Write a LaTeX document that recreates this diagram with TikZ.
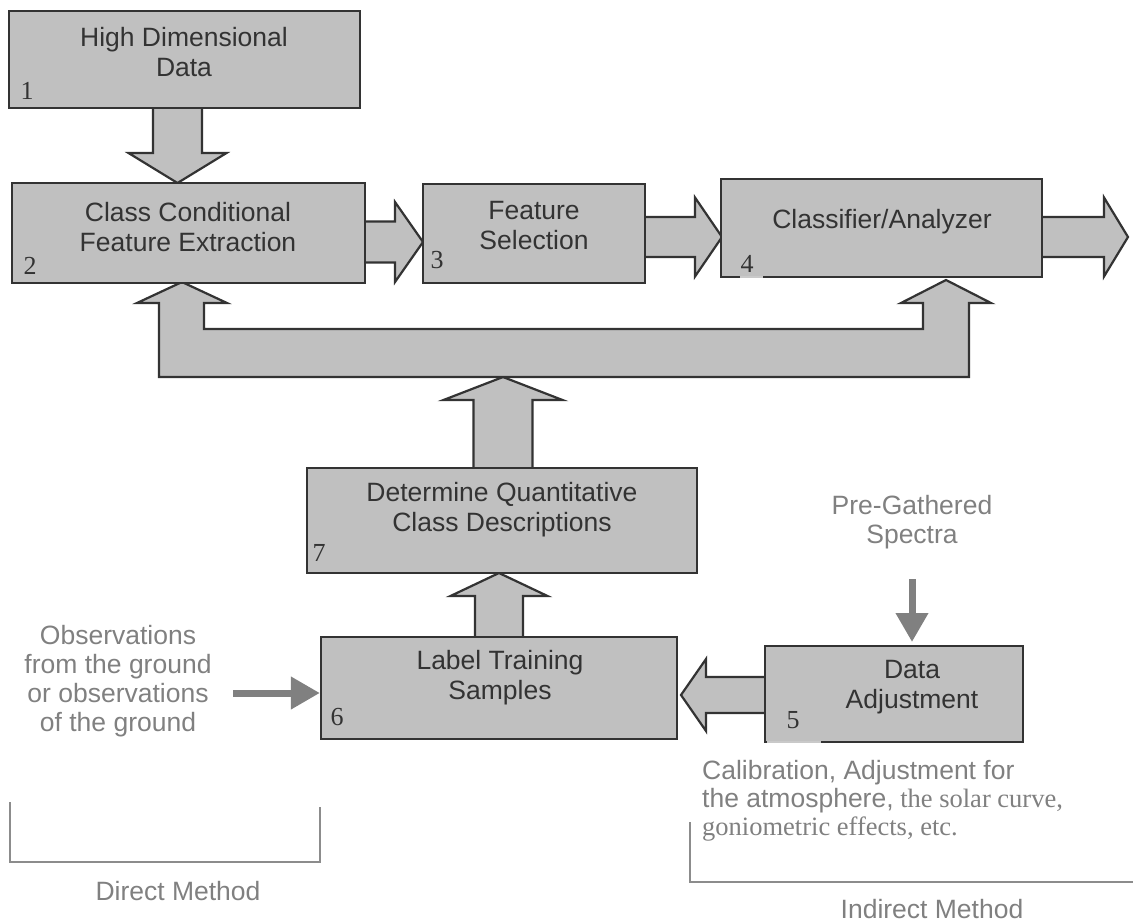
\documentclass[tikz,border=0pt]{standalone}
\usepackage{fontspec}
\setmainfont{Liberation Serif}
\setsansfont{Liberation Sans}
\usetikzlibrary{fit,arrows.meta}
\definecolor{boxfill}{HTML}{C0C0C0}
\definecolor{boxline}{HTML}{333333}
\definecolor{annot}{HTML}{808080}
\definecolor{brackc}{HTML}{8C8C8C}
\tikzset{
  box/.style={draw=boxline, fill=boxfill, line width=2.2pt, inner sep=0pt},
  blk/.style={draw=boxline, fill=boxfill, line width=2.2pt, line join=miter},
  boxtext/.style={text=boxline, font=\sffamily\fontsize{26.5}{30}\selectfont, align=center, inner sep=0pt},
  numtext/.style={text=boxline, font=\rmfamily\fontsize{26}{30}\selectfont, inner sep=0pt},
  annottext/.style={text=annot, font=\sffamily\fontsize{26.5}{29}\selectfont, align=center, inner sep=0pt},
  thinarr/.style={draw=annot, line width=7pt, -{Triangle[length=29pt,width=31pt]}},
  brk/.style={draw=brackc, line width=2pt},
}
% horizontal block arrow: start x, tip x, centre y, shaft half, head half, head base x
\newcommand\hblock[6]{\filldraw[blk] (#1,#3-#4) -- (#6,#3-#4) -- (#6,#3-#5) -- (#2,#3) -- (#6,#3+#5) -- (#6,#3+#4) -- (#1,#3+#4);}
% vertical block arrow: start y, tip y, centre x, shaft half, head half, head base y
\newcommand\vblock[6]{\filldraw[blk] (#3-#4,#1) -- (#3-#4,#6) -- (#3-#5,#6) -- (#3,#2) -- (#3+#5,#6) -- (#3+#4,#6) -- (#3+#4,#1);}
\begin{document}
\begin{tikzpicture}[x=1pt,y=-1pt]
\useasboundingbox (0,0) rectangle (1133,924);
% block arrows (drawn first, boxes cover their ends)
\vblock{108}{183}{177.5}{24.5}{49}{153}
\hblock{365}{423}{242}{20.5}{40}{395}
\hblock{645}{722}{237}{20}{39.5}{695}
\hblock{1042}{1128}{237}{20}{39.5}{1104}
\vblock{468}{377}{503}{29.5}{59.5}{400}
\vblock{637}{573}{499}{24}{48.5}{596}
\hblock{765}{681}{695}{18}{36}{706}
% feedback U-shaped double arrow
\filldraw[blk] (182,282) -- (227,303) -- (204,303) -- (204,329) -- (923,329) -- (923,303)
  -- (901,303) -- (946,280) -- (991,303) -- (969,303) -- (969,377) -- (159,377)
  -- (159,303) -- (137,303) -- cycle;
% boxes
\node[box, fit={(9,11) (360,108)}] (b1) {};
\node[box, fit={(12,183) (365,283)}] (b2) {};
\node[box, fit={(423,184) (645,283)}] (b3) {};
\node[box, fit={(721,179) (1042,277)}] (b4) {};
\node[box, fit={(307,468) (697,573)}] (b7) {};
\node[box, fit={(321,637) (677,739)}] (b6) {};
\node[box, fit={(765,646) (1023,742)}] (b5) {};
\draw[draw=boxfill!85!white, line width=2.2pt] (740,277) -- (763,277);
\draw[draw=boxfill!85!white, line width=2.2pt] (767,742) -- (821,742);
% box texts
\node[boxtext] (t1) at (184,52) {High Dimensional\\Data};
\node[boxtext] (t2) at (188,227) {Class Conditional\\Feature Extraction};
\node[boxtext] (t3) at (534,226) {Feature\\Selection};
\node[boxtext] (t4) at (882,222) {Classifier/Analyzer};
\node[boxtext] (t7) at (502,510) {Determine Quantitative\\Class Descriptions};
\node[boxtext] (t6) at (500,678) {Label Training\\Samples};
\node[boxtext] (t5) at (912,687) {Data\\Adjustment};
% numbers
\node[numtext] (n1) at (27,91) {1};
\node[numtext] (n2) at (30,266) {2};
\node[numtext] (n3) at (437,260) {3};
\node[numtext] (n4) at (747,264) {4};
\node[numtext] (n5) at (793,720) {5};
\node[numtext] (n6) at (337,717) {6};
\node[numtext] (n7) at (319,553) {7};
% annotations
\node[annottext] (obs) at (118,681) {Observations\\from the ground\\or observations\\of the ground};
\node[annottext] (pg) at (912,522) {Pre-Gathered\\Spectra};
\coordinate (obsend) at (233,693);
\draw[thinarr] (obsend) -- (b6.west |- obsend);
\coordinate (pgstart) at (912,579);
\draw[thinarr] (pgstart) -- (912,642);
\node[anchor=west, text=annot, inner sep=0pt, align=left,
      font=\fontsize{26.5}{28}\selectfont] (cal) at (702,801)
  {\sffamily Calibration, Adjustment for\\
   \sffamily the atmosphere,\rmfamily{} the solar curve,\\
   \rmfamily goniometric effects, etc.};
% brackets
\draw[brk] (10,802) -- (10,862) -- (320,862) -- (320,807);
\draw[brk] (690,822) -- (690,882) -- (1133,882);
\node[annottext] (dm) at (178,891) {Direct Method};
\node[annottext] (im) at (932,909) {Indirect Method};
\end{tikzpicture}
\end{document}
